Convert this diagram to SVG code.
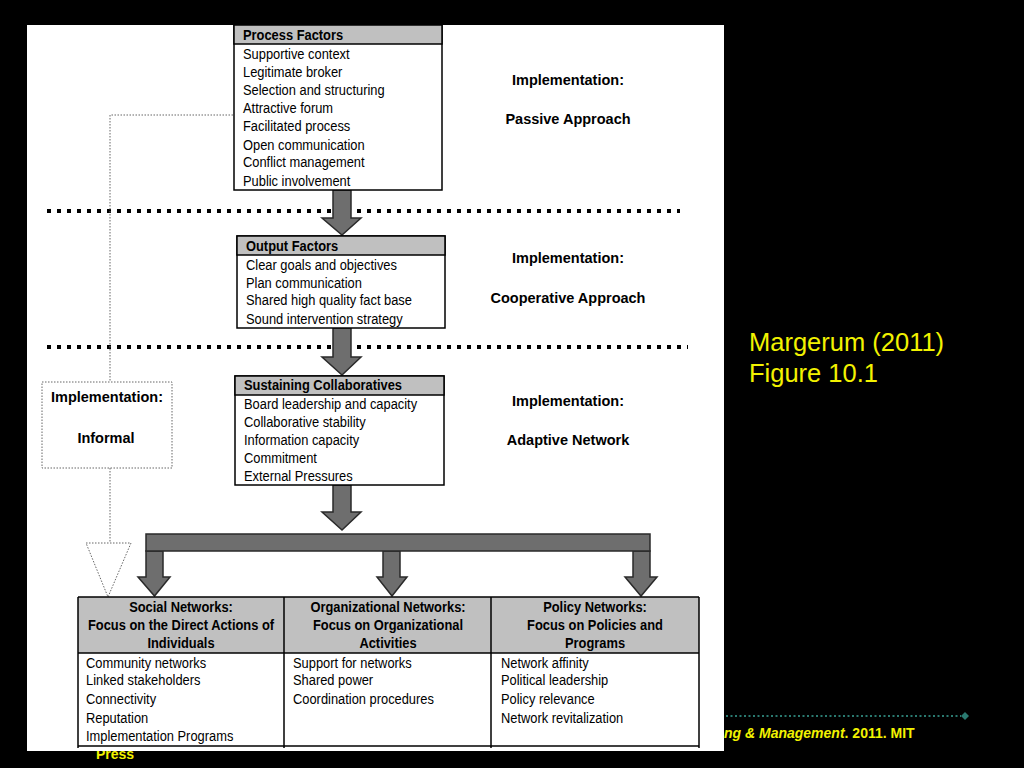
<svg xmlns="http://www.w3.org/2000/svg" width="1024" height="768" viewBox="0 0 1024 768">
<style>
.t{font-family:"Liberation Sans",Arial,sans-serif;font-size:14px;fill:#000}
.b{font-family:"Liberation Sans",Arial,sans-serif;font-size:14px;font-weight:bold;fill:#000}
.l{font-family:"Liberation Sans",Arial,sans-serif;font-size:14.5px;font-weight:bold;fill:#000;text-anchor:middle}
.c{text-anchor:middle}
.box{fill:#fff;stroke:#000;stroke-width:1.5}
.hdr{fill:#c0c0c0;stroke:#000;stroke-width:1.5}
.arr{fill:#6e6e6e;stroke:#2a2a2a;stroke-width:1.5}
.dots{stroke:#000;stroke-width:4;stroke-dasharray:4 6;fill:none}
.thin{stroke:#666;stroke-width:1;stroke-dasharray:1.5 1.5;fill:none}
.y{font-family:"Liberation Sans",Arial,sans-serif;fill:#f2f200}
</style>
<rect x="0" y="0" width="1024" height="768" fill="#000"/>
<text class="y" x="96" y="759" font-size="14" font-weight="bold">Press</text>
<rect x="27" y="25" width="697" height="726" fill="#fff"/>

<g id="separators">
<line class="dots" x1="47" y1="211" x2="680" y2="211"/>
<line class="dots" x1="47" y1="347" x2="688" y2="347"/>
</g>

<g id="connectors">
<polyline class="thin" points="233,115 110,115 110,382"/>
<line class="thin" x1="110" y1="468" x2="110" y2="543"/>
<polygon class="thin" points="86,543 131,543 108,597"/>
<polygon class="arr" points="333,190 351,190 351,218 361,218 342,235 322,218 333,218"/>
<polygon class="arr" points="333,328 351,328 351,357 361,357 342,375 322,357 333,357"/>
<polygon class="arr" points="333,485 351,485 351,512 361,512 342,530 322,512 333,512"/>
<polygon class="arr" points="146,551 163,551 163,577 170,577 154.5,596 138,577 146,577"/>
<polygon class="arr" points="383,551 400,551 400,577 407,577 392,596 377,577 383,577"/>
<polygon class="arr" points="633,551 650,551 650,577 657,577 641,596 625,577 633,577"/>
<rect class="arr" x="146" y="534" width="504" height="17"/>
</g>

<g id="process-factors">
<rect class="box" x="234" y="25" width="208" height="165"/>
<rect class="hdr" x="234" y="25" width="208" height="19"/>
<g transform="translate(243,0) scale(0.92,1)">
<text class="b" x="0" y="40">Process Factors</text>
<text class="t" x="0" y="59">Supportive context</text>
<text class="t" x="0" y="77">Legitimate broker</text>
<text class="t" x="0" y="95">Selection and structuring</text>
<text class="t" x="0" y="113">Attractive forum</text>
<text class="t" x="0" y="131">Facilitated process</text>
<text class="t" x="0" y="150">Open communication</text>
<text class="t" x="0" y="167">Conflict management</text>
<text class="t" x="0" y="186">Public involvement</text>
</g>
</g>

<g id="output-factors">
<rect class="box" x="237" y="236" width="208" height="92"/>
<rect class="hdr" x="237" y="236" width="208" height="19"/>
<g transform="translate(246,0) scale(0.92,1)">
<text class="b" x="0" y="251">Output Factors</text>
<text class="t" x="0" y="270">Clear goals and objectives</text>
<text class="t" x="0" y="288">Plan communication</text>
<text class="t" x="0" y="305">Shared high quality fact base</text>
<text class="t" x="0" y="324">Sound intervention strategy</text>
</g>
</g>

<g id="sustaining-collaboratives">
<rect class="box" x="235" y="376" width="209" height="109"/>
<rect class="hdr" x="235" y="376" width="209" height="19"/>
<g transform="translate(244,0) scale(0.92,1)">
<text class="b" x="0" y="390">Sustaining Collaboratives</text>
<text class="t" x="0" y="409">Board leadership and capacity</text>
<text class="t" x="0" y="427">Collaborative stability</text>
<text class="t" x="0" y="445">Information capacity</text>
<text class="t" x="0" y="463">Commitment</text>
<text class="t" x="0" y="481">External Pressures</text>
</g>
</g>

<g id="impl-passive">
<text class="l" x="568" y="85">Implementation:</text>
<text class="l" x="568" y="124">Passive Approach</text>
</g>
<g id="impl-cooperative">
<text class="l" x="568" y="263">Implementation:</text>
<text class="l" x="568" y="303">Cooperative Approach</text>
</g>
<g id="impl-adaptive">
<text class="l" x="568" y="406">Implementation:</text>
<text class="l" x="568" y="445">Adaptive Network</text>
</g>

<g id="impl-informal">
<rect class="thin" x="42" y="382" width="130" height="86"/>
<text class="l" x="107" y="402">Implementation:</text>
<text class="l" x="106" y="443">Informal</text>
</g>

<g id="networks-table">
<rect x="78" y="597" width="621" height="56" fill="#c0c0c0"/>
<line x1="78" y1="597" x2="699" y2="597" stroke="#000" stroke-width="1.5"/>
<line x1="78" y1="653" x2="699" y2="653" stroke="#000" stroke-width="1.5"/>
<line x1="78" y1="746" x2="699" y2="746" stroke="#000" stroke-width="1.5"/>
<line x1="78" y1="597" x2="78" y2="748" stroke="#000" stroke-width="1.5"/>
<line x1="284" y1="597" x2="284" y2="748" stroke="#000" stroke-width="1.5"/>
<line x1="491" y1="597" x2="491" y2="748" stroke="#000" stroke-width="1.5"/>
<line x1="699" y1="597" x2="699" y2="748" stroke="#000" stroke-width="1.5"/>
</g>

<g id="social-networks">
<g transform="translate(181,0) scale(0.92,1)">
<text class="b c" x="0" y="612">Social Networks:</text>
<text class="b c" x="0" y="630">Focus on the Direct Actions of</text>
<text class="b c" x="0" y="648">Individuals</text>
</g>
<g transform="translate(86,0) scale(0.92,1)">
<text class="t" x="0" y="668">Community networks</text>
<text class="t" x="0" y="685">Linked stakeholders</text>
<text class="t" x="0" y="704">Connectivity</text>
<text class="t" x="0" y="723">Reputation</text>
<text class="t" x="0" y="741">Implementation Programs</text>
</g>
</g>

<g id="organizational-networks">
<g transform="translate(388,0) scale(0.92,1)">
<text class="b c" x="0" y="612">Organizational Networks:</text>
<text class="b c" x="0" y="630">Focus on Organizational</text>
<text class="b c" x="0" y="648">Activities</text>
</g>
<g transform="translate(293,0) scale(0.92,1)">
<text class="t" x="0" y="668">Support for networks</text>
<text class="t" x="0" y="685">Shared power</text>
<text class="t" x="0" y="704">Coordination procedures</text>
</g>
</g>

<g id="policy-networks">
<g transform="translate(595,0) scale(0.92,1)">
<text class="b c" x="0" y="612">Policy Networks:</text>
<text class="b c" x="0" y="630">Focus on Policies and</text>
<text class="b c" x="0" y="648">Programs</text>
</g>
<g transform="translate(501,0) scale(0.92,1)">
<text class="t" x="0" y="668">Network affinity</text>
<text class="t" x="0" y="685">Political leadership</text>
<text class="t" x="0" y="704">Policy relevance</text>
<text class="t" x="0" y="723">Network revitalization</text>
</g>
</g>

<g id="caption">
<text class="y" x="749" y="351" font-size="25.5">Margerum (2011)</text>
<text class="y" x="749" y="382" font-size="25.5">Figure 10.1</text>
<line x1="726" y1="716" x2="961" y2="716" stroke="#2a7a70" stroke-width="2" stroke-dasharray="2 2.5"/>
<polygon points="965,712 969,716 965,720 961,716" fill="#2a7a70"/>
<text class="y" x="724" y="738" font-size="14" font-weight="bold"><tspan font-style="italic">ng &amp; Management</tspan>. 2011. MIT</text>
</g>
</svg>
